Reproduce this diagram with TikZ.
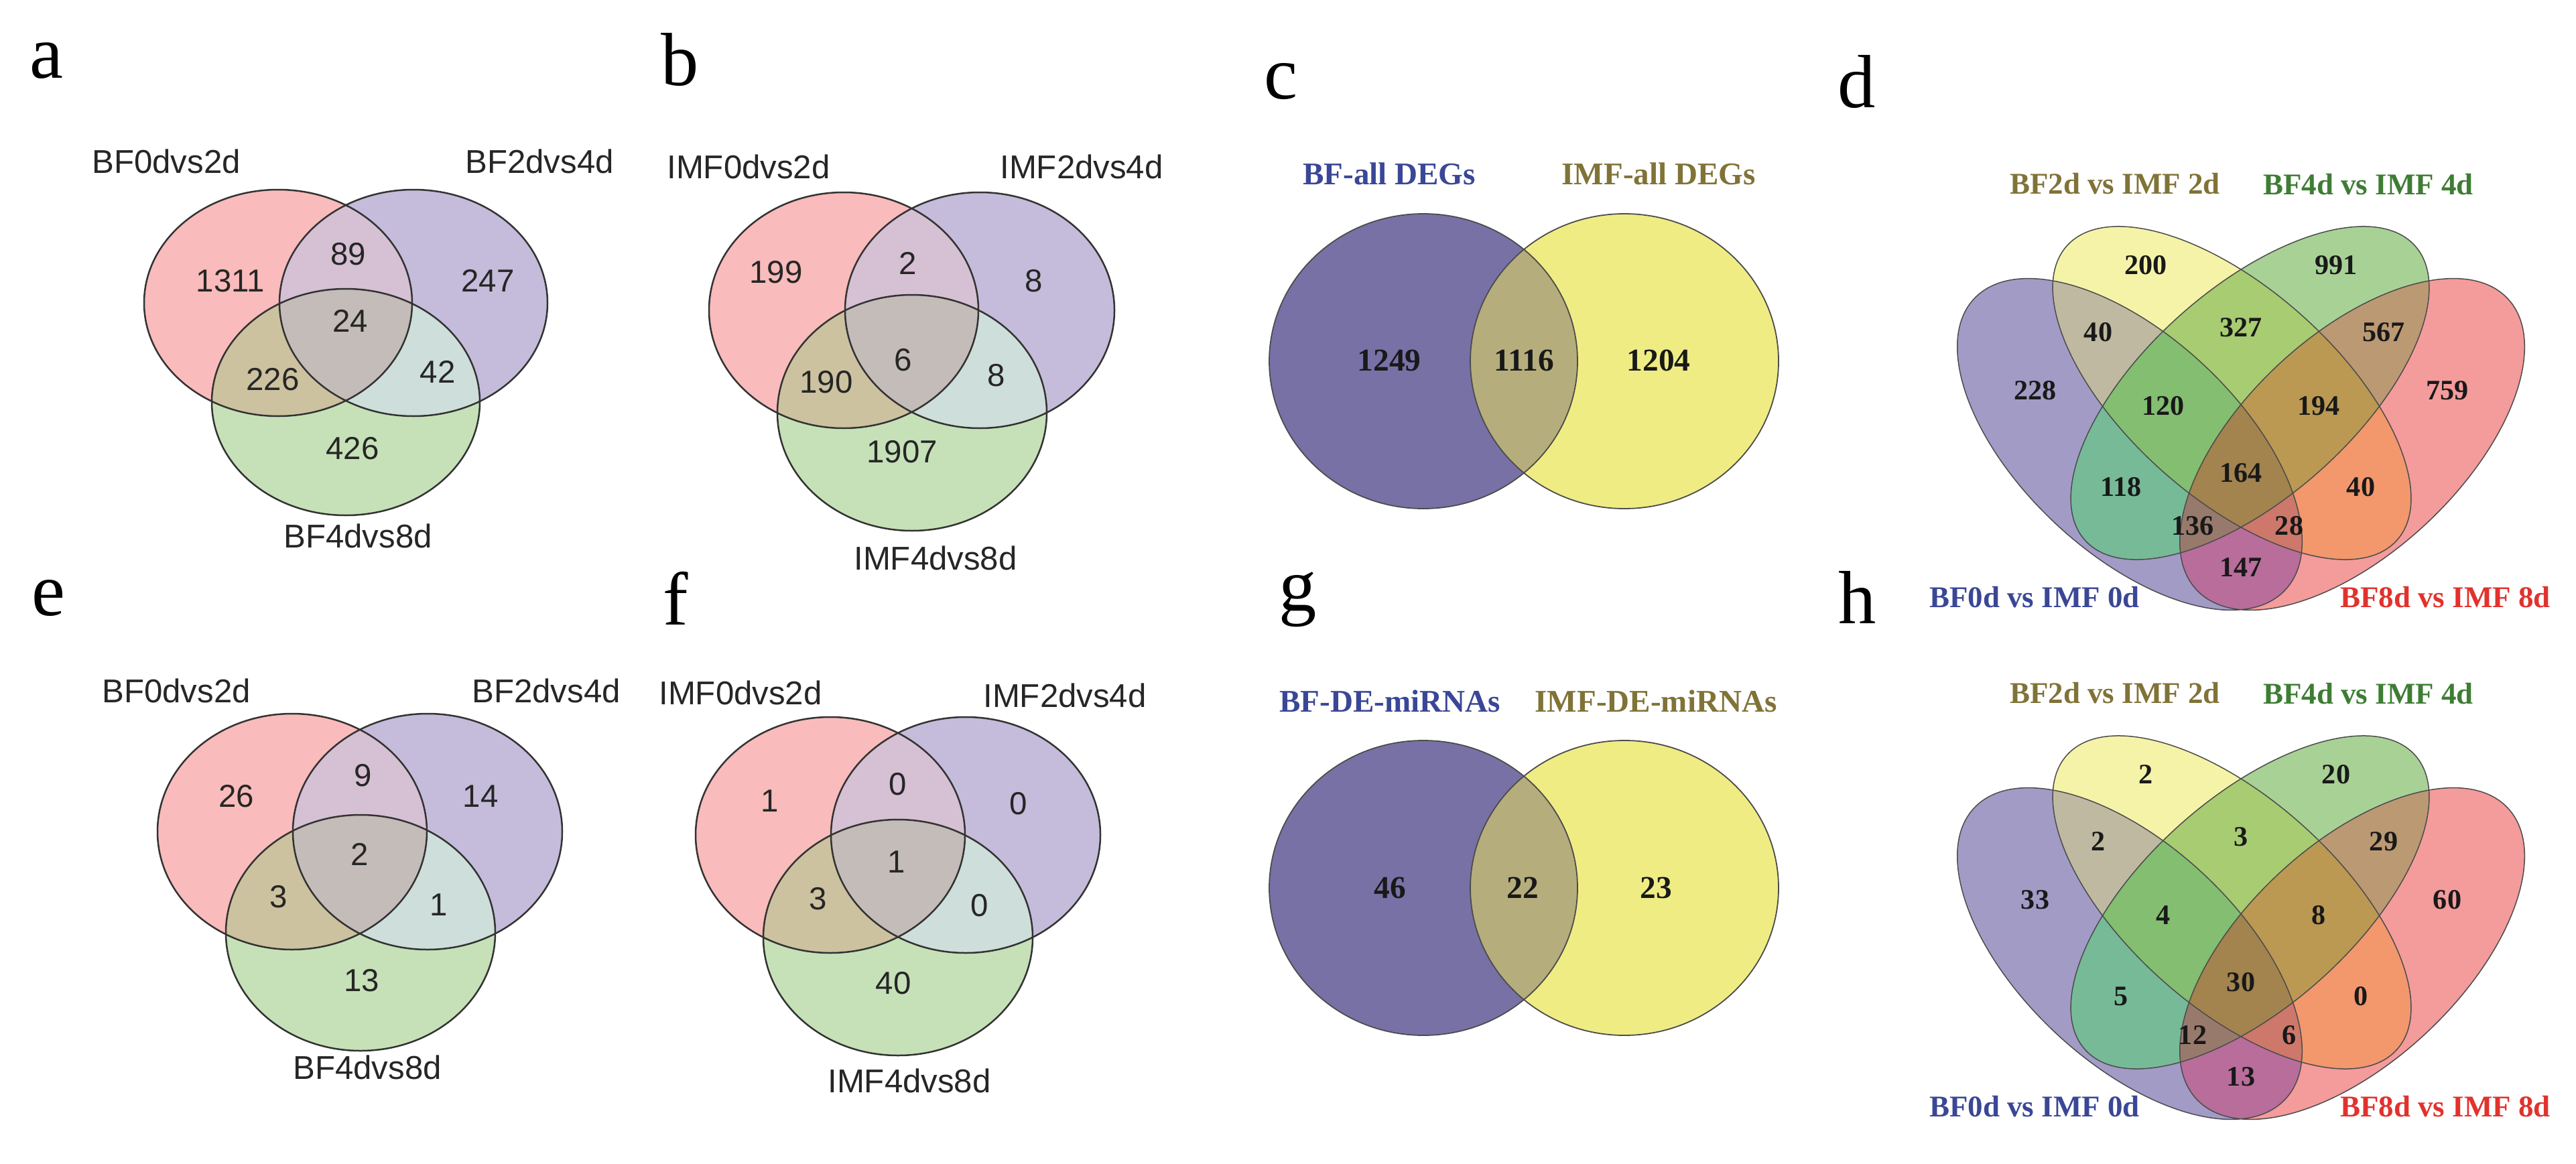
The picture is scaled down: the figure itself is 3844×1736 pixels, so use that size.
\documentclass[tikz,border=0pt]{standalone}
\usepackage{fontspec}
\setmainfont{Liberation Serif}
\newfontfamily\arialfont{Liberation Sans}
\usetikzlibrary{positioning}

% three-set colours
\definecolor{triR}{HTML}{F9BBBB}
\definecolor{triB}{HTML}{C4BCDA}
\definecolor{triG}{HTML}{C6E1B8}
\definecolor{triRB}{HTML}{D6C0D4}
\definecolor{triRG}{HTML}{CCC2A0}
\definecolor{triBG}{HTML}{CEDEDA}
\definecolor{triRBG}{HTML}{C4BCB8}
% two-set colours
\definecolor{duoB}{HTML}{7871A6}
\definecolor{duoY}{HTML}{EFEC84}
\definecolor{duoBY}{HTML}{B5AD7B}
% four-set colours
\definecolor{qP}{HTML}{A29BC6}
\definecolor{qY}{HTML}{F5F3A7}
\definecolor{qG}{HTML}{A8D196}
\definecolor{qR}{HTML}{F49B9B}
\definecolor{qPY}{HTML}{BEB9A0}
\definecolor{qPG}{HTML}{76BA98}
\definecolor{qPR}{HTML}{B86D9B}
\definecolor{qYG}{HTML}{A8CC71}
\definecolor{qYR}{HTML}{F2986C}
\definecolor{qGR}{HTML}{BB9973}
\definecolor{qPYG}{HTML}{83BE71}
\definecolor{qPYR}{HTML}{CD786B}
\definecolor{qPGR}{HTML}{987A6C}
\definecolor{qYGR}{HTML}{BB9952}
\definecolor{qPYGR}{HTML}{A3834E}
% label colours
\definecolor{txtBlue}{HTML}{3A4796}
\definecolor{txtOlive}{HTML}{807337}
\definecolor{txtGreen}{HTML}{3E7D34}
\definecolor{txtRed}{HTML}{E1322D}

% three circles: red, blue, green centres
\newcommand{\threevenn}[3]{%
  \fill[triR] #1 circle[]; \fill[triB] #2 circle[]; \fill[triG] #3 circle[];
  \begin{scope}\clip #1 circle[]; \fill[triRB] #2 circle[]; \end{scope}
  \begin{scope}\clip #1 circle[]; \fill[triRG] #3 circle[]; \end{scope}
  \begin{scope}\clip #2 circle[]; \fill[triBG] #3 circle[]; \end{scope}
  \begin{scope}\clip #1 circle[]; \clip #2 circle[]; \fill[triRBG] #3 circle[]; \end{scope}
  \draw[triline] #1 circle[] #2 circle[] #3 circle[];
}
% two ellipses: blue, yellow centres
\newcommand{\twovenn}[2]{%
  \fill[duoB] #1 circle[]; \fill[duoY] #2 circle[];
  \begin{scope}\clip #1 circle[]; \fill[duoBY] #2 circle[]; \end{scope}
  \draw[duoline] #1 circle[] #2 circle[];
}
% four ellipses
\newcommand{\eP}{(3178,663) circle [x radius=318, y radius=162, rotate=-43.1]}
\newcommand{\eY}{(3330.5,586.5) circle [x radius=330, y radius=156, rotate=-41.7]}
\newcommand{\eG}{(3357.5,586.5) circle [x radius=330, y radius=156, rotate=41.7]}
\newcommand{\eR}{(3510,663) circle [x radius=318, y radius=162, rotate=43.1]}
\newcommand{\fourvenn}{%
  \fill[qP] \eP; \fill[qY] \eY; \fill[qG] \eG; \fill[qR] \eR;
  \begin{scope}\clip \eP; \fill[qPY] \eY; \end{scope}
  \begin{scope}\clip \eP; \fill[qPG] \eG; \end{scope}
  \begin{scope}\clip \eP; \fill[qPR] \eR; \end{scope}
  \begin{scope}\clip \eY; \fill[qYG] \eG; \end{scope}
  \begin{scope}\clip \eY; \fill[qYR] \eR; \end{scope}
  \begin{scope}\clip \eG; \fill[qGR] \eR; \end{scope}
  \begin{scope}\clip \eP; \clip \eY; \fill[qPYG] \eG; \end{scope}
  \begin{scope}\clip \eP; \clip \eY; \fill[qPYR] \eR; \end{scope}
  \begin{scope}\clip \eP; \clip \eG; \fill[qPGR] \eR; \end{scope}
  \begin{scope}\clip \eY; \clip \eG; \fill[qYGR] \eR; \end{scope}
  \begin{scope}\clip \eP; \clip \eY; \clip \eG; \fill[qPYGR] \eR; \end{scope}
  \draw[quadline] \eP \eY \eG \eR;
}

\begin{document}
\begin{tikzpicture}[x=0.1mm, y=-0.1mm,
  tag/.style={font=\fontsize{32}{32}\selectfont, anchor=base, inner sep=0pt},
  setname/.style={font=\arialfont\fontsize{14}{14}\selectfont, text=black!85, inner sep=0pt},
  setnum/.style={font=\arialfont\fontsize{13.5}{14}\selectfont, text=black!85, inner sep=0pt},
  duoname/.style={font=\bfseries\fontsize{13.4}{14}\selectfont, inner sep=0pt},
  duonum/.style={font=\bfseries\fontsize{13.5}{14}\selectfont, text=black!90, inner sep=0pt},
  quadname/.style={font=\bfseries\fontsize{12.8}{13}\selectfont, inner sep=0pt},
  quadnum/.style={font=\bfseries\fontsize{12}{12}\selectfont, text=black!90, inner sep=0pt},
  triline/.style={draw=black!80, line width=0.25mm},
  duoline/.style={draw=black!70, line width=0.18mm},
  quadline/.style={draw=black!70, line width=0.15mm}]

\fill[white] (0,0) rectangle (3844,1736);

% panel letters
\node[tag] (tag-a) at (69,116) {a};
\node[tag] (tag-b) at (1015,127) {b};
\node[tag] (tag-c) at (1911,147) {c};
\node[tag] (tag-d) at (2771,160) {d};
\node[tag] (tag-e) at (72,918) {e};
\node[tag] (tag-f) at (1008,932) {f};
\node[tag] (tag-g) at (1937,911) {g};
\node[tag] (tag-h) at (2772,930) {h};

% a: BF time points
\begin{scope}[x radius=200, y radius=169]
  \threevenn{(415,452)}{(617,452)}{(516,600)}
\end{scope}
\node[setname] (a-s1) at (248,241) {BF0dvs2d};
\node[setname] (a-s2) at (805,241) {BF2dvs4d};
\node[setname] (a-s3) at (534,800) {BF4dvs8d};
\node[setnum] (a-n1) at (344,419) {1311};
\node[setnum] (a-n2) at (520,379) {89};
\node[setnum] (a-n3) at (728,419) {247};
\node[setnum] (a-n4) at (523,479) {24};
\node[setnum] (a-n5) at (407,566) {226};
\node[setnum] (a-n6) at (653,555) {42};
\node[setnum] (a-n7) at (526,669) {426};

% b: IMF time points
\begin{scope}[x radius=201, y radius=176]
  \threevenn{(1259,463)}{(1462,463)}{(1361,616)}
\end{scope}
\node[setname] (b-s1) at (1117,249) {IMF0dvs2d};
\node[setname] (b-s2) at (1614,249) {IMF2dvs4d};
\node[setname] (b-s3) at (1396,833) {IMF4dvs8d};
\node[setnum] (b-n1) at (1158,406) {199};
\node[setnum] (b-n2) at (1355,393) {2};
\node[setnum] (b-n3) at (1543,419) {8};
\node[setnum] (b-n4) at (1348,537) {6};
\node[setnum] (b-n5) at (1233,570) {190};
\node[setnum] (b-n6) at (1487,560) {8};
\node[setnum] (b-n7) at (1346,674) {1907};

% c: all DEGs
\begin{scope}[x radius=230, y radius=220]
  \twovenn{(2124,539)}{(2424,539)}
\end{scope}
\node[duoname, text=txtBlue] (c-s1) at (2073,259) {BF-all DEGs};
\node[duoname, text=txtOlive] (c-s2) at (2475,259) {IMF-all DEGs};
\node[duonum] (c-n1) at (2073,538) {1249};
\node[duonum] (c-n2) at (2274,538) {1116};
\node[duonum] (c-n3) at (2475,538) {1204};

% d: BF vs IMF, DEGs
\fourvenn
\node[quadname, text=txtOlive] (d-s2) at (3156,274) {BF2d vs IMF 2d};
\node[quadname, text=txtGreen] (d-s3) at (3534,275) {BF4d vs IMF 4d};
\node[quadname, text=txtBlue] (d-s1) at (3036,891) {BF0d vs IMF 0d};
\node[quadname, text=txtRed] (d-s4) at (3649,891) {BF8d vs IMF 8d};
\node[quadnum] (d-n1) at (3202,396) {200};
\node[quadnum] (d-n2) at (3486,396) {991};
\node[quadnum] (d-n3) at (3131,496) {40};
\node[quadnum] (d-n4) at (3344,489) {327};
\node[quadnum] (d-n5) at (3557,496) {567};
\node[quadnum] (d-n6) at (3037,583) {228};
\node[quadnum] (d-n7) at (3228,606) {120};
\node[quadnum] (d-n8) at (3460,606) {194};
\node[quadnum] (d-n9) at (3652,583) {759};
\node[quadnum] (d-n10) at (3165,727) {118};
\node[quadnum] (d-n11) at (3344,706) {164};
\node[quadnum] (d-n12) at (3523,727) {40};
\node[quadnum] (d-n13) at (3272,785) {136};
\node[quadnum] (d-n14) at (3416,785) {28};
\node[quadnum] (d-n15) at (3344,847) {147};

% e: BF miRNAs
\begin{scope}[x radius=201, y radius=176]
  \threevenn{(436,1241)}{(638,1241)}{(538,1392)}
\end{scope}
\node[setname] (e-s1) at (263,1031) {BF0dvs2d};
\node[setname] (e-s2) at (815,1031) {BF2dvs4d};
\node[setname] (e-s3) at (548,1593) {BF4dvs8d};
\node[setnum] (e-n1) at (353,1188) {26};
\node[setnum] (e-n2) at (542,1157) {9};
\node[setnum] (e-n3) at (717,1188) {14};
\node[setnum] (e-n4) at (537,1275) {2};
\node[setnum] (e-n5) at (416,1338) {3};
\node[setnum] (e-n6) at (655,1350) {1};
\node[setnum] (e-n7) at (540,1463) {13};

% f: IMF miRNAs
\begin{scope}[x radius=201, y radius=176]
  \threevenn{(1239,1246)}{(1441,1246)}{(1340,1399)}
\end{scope}
\node[setname] (f-s1) at (1105,1034) {IMF0dvs2d};
\node[setname] (f-s2) at (1589,1038) {IMF2dvs4d};
\node[setname] (f-s3) at (1357,1613) {IMF4dvs8d};
\node[setnum] (f-n1) at (1149,1195) {1};
\node[setnum] (f-n2) at (1340,1170) {0};
\node[setnum] (f-n3) at (1520,1199) {0};
\node[setnum] (f-n4) at (1338,1286) {1};
\node[setnum] (f-n5) at (1221,1341) {3};
\node[setnum] (f-n6) at (1462,1351) {0};
\node[setnum] (f-n7) at (1333,1467) {40};

% g: all DE miRNAs
\begin{scope}[x radius=230, y radius=220]
  \twovenn{(2124,1325)}{(2424,1325)}
\end{scope}
\node[duoname, text=txtBlue] (g-s1) at (2074,1046) {BF-DE-miRNAs};
\node[duoname, text=txtOlive] (g-s2) at (2471,1046) {IMF-DE-miRNAs};
\node[duonum] (g-n1) at (2074,1325) {46};
\node[duonum] (g-n2) at (2272,1325) {22};
\node[duonum] (g-n3) at (2471,1325) {23};

% h: BF vs IMF, miRNAs
\begin{scope}[shift={(0,760)}]
  \fourvenn
  \node[quadname, text=txtOlive] (h-s2) at (3156,274) {BF2d vs IMF 2d};
  \node[quadname, text=txtGreen] (h-s3) at (3534,275) {BF4d vs IMF 4d};
  \node[quadname, text=txtBlue] (h-s1) at (3036,891) {BF0d vs IMF 0d};
  \node[quadname, text=txtRed] (h-s4) at (3649,891) {BF8d vs IMF 8d};
  \node[quadnum] (h-n1) at (3202,396) {2};
  \node[quadnum] (h-n2) at (3486,396) {20};
  \node[quadnum] (h-n3) at (3131,496) {2};
  \node[quadnum] (h-n4) at (3344,489) {3};
  \node[quadnum] (h-n5) at (3557,496) {29};
  \node[quadnum] (h-n6) at (3037,583) {33};
  \node[quadnum] (h-n7) at (3228,606) {4};
  \node[quadnum] (h-n8) at (3460,606) {8};
  \node[quadnum] (h-n9) at (3652,583) {60};
  \node[quadnum] (h-n10) at (3165,727) {5};
  \node[quadnum] (h-n11) at (3344,706) {30};
  \node[quadnum] (h-n12) at (3523,727) {0};
  \node[quadnum] (h-n13) at (3272,785) {12};
  \node[quadnum] (h-n14) at (3416,785) {6};
  \node[quadnum] (h-n15) at (3344,847) {13};
\end{scope}

\end{tikzpicture}
\end{document}
